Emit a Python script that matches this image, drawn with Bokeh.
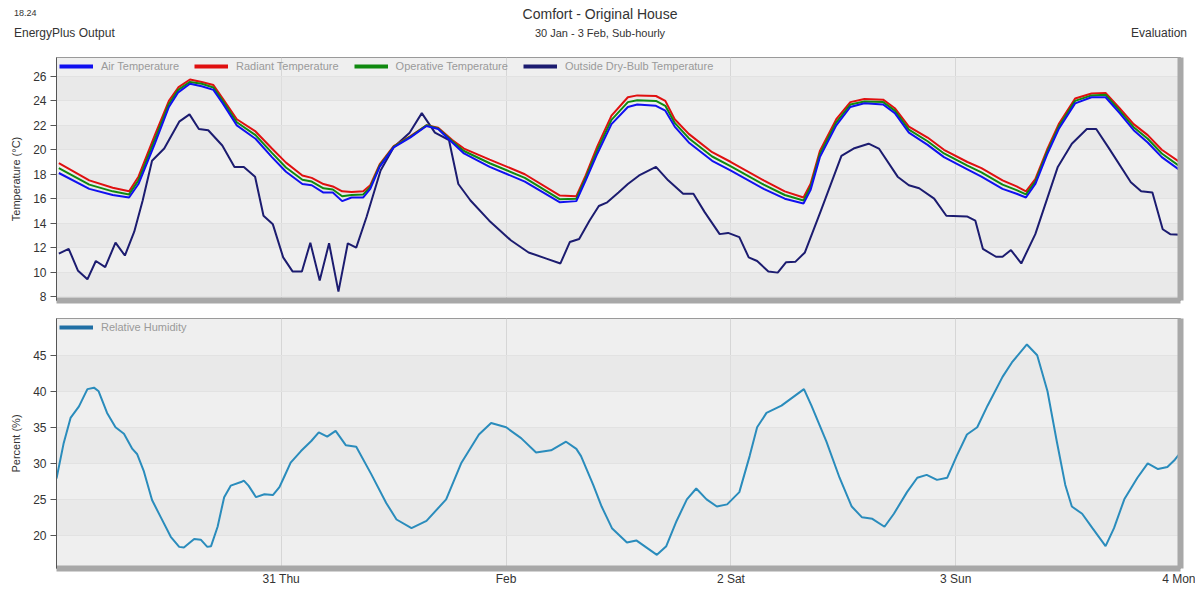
from bokeh.plotting import figure
from bokeh.layouts import column
from bokeh.models import (FixedTicker, Legend, LegendItem, LinearAxis, Range1d, Div)
from bokeh.embed import file_html
from bokeh.resources import INLINE

# ---------------- data (hours from 30 Jan 00:00) ----------------
hours_in = [0.25, 3.5, 6, 7.75, 8.75, 10.5, 12, 13, 14.25, 15.5, 16.75, 17.75, 19.25, 21.25, 23,
            24.5, 26.25, 27.25, 28.5, 29.5, 30.5, 31.5, 32.75, 33.5, 34.5, 36, 37.75, 39.5, 40.75,
            42.25, 43.5, 46.25, 50, 53.75, 55.5, 56.5, 57.75, 59.25, 61, 62, 64, 65, 66, 67.5, 70,
            72, 75.5, 77.75, 79.75, 80.5, 81.5, 83.25, 84.75, 86.25, 88.25, 89.5, 91, 93, 94.75,
            97.25, 98.75, 101, 102.5, 103.5, 104.5, 105.75, 107, 108.75, 110.5, 112, 113.5, 115,
            116.5, 118, 120]
air_temp = [18.1, 16.8, 16.3, 16.1, 17.2, 20.5, 23.5, 24.7, 25.4, 25.2, 24.9, 23.8, 22.0, 20.9, 19.4,
            18.2, 17.2, 17.1, 16.5, 16.5, 15.8, 16.1, 16.1, 16.8, 18.6, 20.2, 21.0, 21.95, 21.7,
            20.6, 19.7, 18.6, 17.4, 15.7, 15.8, 17.5, 19.7, 22.1, 23.5, 23.7, 23.6, 23.2, 21.9, 20.6,
            19.1, 18.3, 16.8, 16.0, 15.6, 16.7, 19.4, 22.0, 23.5, 23.8, 23.7, 23.0, 21.4, 20.4, 19.4,
            18.4, 17.8, 16.8, 16.4, 16.1, 17.2, 19.6, 21.7, 23.8, 24.3, 24.3, 23.0, 21.6, 20.6, 19.4,
            18.3]
radiant_temp = [18.9, 17.5, 16.9, 16.6, 17.8, 21.2, 24.0, 25.1, 25.75, 25.55, 25.3, 24.2, 22.5, 21.5,
                20.1, 18.95, 17.9, 17.7, 17.2, 17.0, 16.6, 16.55, 16.6, 17.1, 18.8, 20.3, 21.1, 22.0,
                21.8, 20.8, 20.1, 19.2, 18.0, 16.25, 16.2, 17.9, 20.3, 22.8, 24.3, 24.45, 24.4, 24.0,
                22.5, 21.3, 19.8, 19.0, 17.5, 16.6, 16.1, 17.2, 19.9, 22.5, 23.9, 24.15, 24.1, 23.4,
                21.9, 21.0, 20.0, 19.0, 18.5, 17.5, 17.0, 16.6, 17.6, 20.0, 22.1, 24.2, 24.6, 24.65,
                23.4, 22.1, 21.2, 20.0, 18.95]
operative_temp = [18.5, 17.15, 16.6, 16.35, 17.5, 20.85, 23.75, 24.9, 25.55, 25.4, 25.1, 24.0, 22.25,
                  21.2, 19.75, 18.55, 17.55, 17.4, 16.85, 16.75, 16.2, 16.3, 16.35, 16.95, 18.7,
                  20.25, 21.05, 22.0, 21.75, 20.7, 19.9, 18.9, 17.7, 15.95, 16.0, 17.7, 20.0, 22.45,
                  23.9, 24.05, 24.0, 23.6, 22.2, 20.95, 19.45, 18.65, 17.15, 16.3, 15.85, 16.95,
                  19.65, 22.25, 23.7, 23.95, 23.9, 23.2, 21.65, 20.7, 19.7, 18.7, 18.15, 17.15, 16.7,
                  16.35, 17.4, 19.8, 21.9, 24.0, 24.45, 24.5, 23.2, 21.85, 20.9, 19.7, 18.6]

hours_out = [0.25, 1.3, 2.3, 3.3, 4.2, 5.2, 6.3, 7.3, 8.3, 9.2, 10.2, 11.5, 13.1, 14.2, 15.2, 16.2,
             17.7, 19, 20, 21.2, 22.1, 23.1, 24.2, 25.2, 26.2, 27.1, 28.1, 29.1, 30.1, 31.1, 32,
             33.1, 34.6, 36, 37.7, 39, 40.4, 41.9, 42.9, 44.2, 46.2, 48.5, 50.4, 52.3, 53.8, 54.8,
             55.8, 56.9, 57.9, 58.8, 60, 61, 62.2, 64, 65.3, 66.9, 68, 69.2, 70.8, 71.7, 72.9, 73.9,
             74.8, 76, 77, 77.9, 78.9, 79.9, 81.6, 83.8, 85.1, 86.7, 87.8, 89.8, 91, 92.1, 93.7, 95,
             97.2, 98.1, 98.9, 100.3, 101, 101.9, 103, 104.5, 106.9, 108.4, 110, 111, 112.3, 114.7,
             115.8, 117, 118.1, 118.9, 120]
outside_temp = [11.5, 11.9, 10.1, 9.4, 10.9, 10.4, 12.4, 11.35, 13.3, 15.85, 19.1, 20.1, 22.3, 22.9,
                21.7, 21.6, 20.35, 18.6, 18.6, 17.8, 14.6, 13.9, 11.2, 10.05, 10.05, 12.4, 9.3,
                12.35, 8.4, 12.35, 12.0, 14.5, 18.3, 20.2, 21.4, 23.0, 21.4, 20.8, 17.2, 15.85, 14.2,
                12.6, 11.6, 11.1, 10.7, 12.45, 12.7, 14.2, 15.4, 15.7, 16.5, 17.2, 17.9, 18.6, 17.5,
                16.4, 16.4, 14.9, 13.1, 13.2, 12.85, 11.2, 10.9, 10.05, 9.95, 10.8, 10.85, 11.6,
                15.0, 19.5, 20.1, 20.5, 20.1, 17.8, 17.1, 16.85, 16.0, 14.6, 14.55, 14.2, 11.9,
                11.25, 11.25, 11.8, 10.7, 13.1, 18.6, 20.5, 21.7, 21.7, 20.2, 17.35, 16.6, 16.5,
                13.5, 13.1, 13.05]

hours_rh = [0, 0.75, 1.5, 2.4, 3.3, 4, 4.5, 5.4, 6.3, 7.2, 8.1, 8.6, 9.3, 10.2, 11.1, 12.2, 13.1, 13.6,
            14.7, 15.4, 16.1, 16.5, 17.2, 17.9, 18.6, 19.7, 20, 20.5, 21.3, 22.2, 23.1, 23.8, 24.3,
            25, 26.1, 27.2, 28, 28.9, 29.8, 30.9, 32, 33.6, 35.2, 36.3, 37.9, 39.5, 41.6, 43.2, 45.1,
            46.4, 48, 49.6, 51.2, 52.8, 54.4, 55.5, 56, 57.3, 58.2, 59.3, 60.9, 61.9, 64.1, 65.1,
            66.2, 67.3, 68.3, 69.4, 70.5, 71.6, 72.9, 74, 74.8, 75.8, 77.4, 79.8, 80.6, 82.2, 83.6,
            84.9, 86, 87.1, 88.4, 89.4, 90.8, 91.9, 92.9, 94, 95.1, 96.1, 97.2, 98.3, 99.4, 101,
            102, 103.6, 104.7, 105.8, 106.8, 107.7, 108.4, 109.5, 110.6, 112, 112.9, 114, 115.4,
            116.5, 117.6, 118.6, 119.4, 120]
rel_humidity = [27.9, 32.7, 36.3, 37.9, 40.3, 40.5, 40.0, 37.0, 35.0, 34.1, 32.0, 31.3, 29.0, 24.9,
                22.6, 19.8, 18.4, 18.3, 19.5, 19.4, 18.4, 18.5, 21.2, 25.3, 26.9, 27.4, 27.6, 26.9,
                25.3, 25.7, 25.6, 26.7, 28.1, 30.1, 31.7, 33.1, 34.3, 33.7, 34.5, 32.5, 32.3, 28.5,
                24.5, 22.2, 21.0, 22.0, 25.0, 30.0, 34.0, 35.6, 35.0, 33.5, 31.5, 31.8, 33.0, 32.0,
                31.0, 27.0, 24.0, 21.0, 19.0, 19.3, 17.3, 18.5, 22.0, 25.0, 26.5, 25.0, 24.0, 24.3,
                26.0, 31.0, 35.0, 37.0, 38.0, 40.3, 38.0, 33.0, 28.0, 24.0, 22.5, 22.3, 21.2, 23.0,
                26.0, 28.0, 28.4, 27.7, 28.0, 31.0, 34.0, 35.0, 38.0, 42.0, 44.0, 46.5, 45.0, 40.0,
                33.0, 27.0, 24.0, 23.0, 21.0, 18.5, 21.0, 25.0, 28.0, 30.0, 29.2, 29.5, 30.5, 31.5]

day_ticks = [24, 48, 72, 96, 120]
day_labels = ["31 Thu", "Feb", "2 Sat", "3 Sun", "4 Mon"]
temp_ticks = [8, 10, 12, 14, 16, 18, 20, 22, 24, 26]
rh_ticks = [20, 25, 30, 35, 40, 45]
temp_names = ["Air Temperature", "Radiant Temperature", "Operative Temperature",
              "Outside Dry-Bulb Temperature"]
header_texts = ["18.24", "EnergyPlus Output", "Comfort - Original House",
                "30 Jan - 3 Feb, Sub-hourly", "Evaluation"]

FONT = "Liberation Sans"
C_AIR, C_RAD, C_OP, C_OUT, C_RH = "#1010f0", "#e01010", "#108a10", "#1c1c70", "#2a8cbc"
SHADOW = "#a8a8a8"
NAN = float("nan")
W = 1195
HDR_H = 46


def style(p, yticks, ylabel):
    p.background_fill_color = "#efefef"
    p.border_fill_color = "white"
    p.outline_line_color = "#9a9a9a"
    p.outline_line_width = 1
    yax = p.yaxis[0]
    yax.ticker = FixedTicker(ticks=yticks)
    yax.axis_label = ylabel
    yax.axis_label_text_font = FONT
    yax.axis_label_text_font_size = "11px"
    yax.axis_label_text_font_style = "normal"
    yax.axis_label_text_color = "#333333"
    yax.axis_label_standoff = 8
    yax.major_label_text_font = FONT
    yax.major_label_text_font_size = "12px"
    yax.major_label_text_color = "#333333"
    yax.axis_line_color = "#555555"
    yax.major_tick_line_color = "#555555"
    yax.major_tick_out = 6
    yax.major_tick_in = 0
    yax.minor_tick_line_color = None
    yax.major_label_standoff = 4
    p.ygrid.ticker = FixedTicker(ticks=yticks)
    p.ygrid.grid_line_color = "#e2e2e2"
    p.ygrid.band_fill_color = "#e4e4e4"
    p.ygrid.band_fill_alpha = 0.55
    p.xgrid.ticker = FixedTicker(ticks=day_ticks[:-1])
    p.xgrid.grid_line_color = "#d6d6d6"
    xax = p.xaxis[0]
    xax.axis_line_color = SHADOW
    xax.axis_line_width = 6
    xax.minor_tick_line_color = None
    xax.major_tick_line_color = "#c8c8c8"
    xax.major_tick_in = 0
    xax.major_tick_out = 0
    right = LinearAxis(ticker=FixedTicker(ticks=[]), axis_line_color=SHADOW, axis_line_width=6,
                       major_tick_line_color=None, minor_tick_line_color=None)
    p.add_layout(right, "right")


# ---------------- header strip (HTML text) ----------------
# (text, left/center/right anchor x, vertical centre y, font size px, alignment)
hdr_style = [(14, 13, 9, "left"), (14, 33, 12, "left"), (600, 14, 14, "center"),
             (600, 33, 11, "center"), (1187, 33, 12, "right")]
spans = []
for t, (x, y, fs, al) in zip(header_texts, hdr_style):
    top = y - fs / 2
    if al == "left":
        pos = f"left:{x}px;"
    elif al == "center":
        pos = f"left:{x}px;transform:translateX(-50%);"
    else:
        pos = f"right:{W - x}px;"
    spans.append(f'<span style="position:absolute;{pos}top:{top}px;font-size:{fs}px;'
                 f'line-height:1;white-space:nowrap;">{t}</span>')
header = Div(text=(f'<div style="position:relative;width:{W}px;height:{HDR_H}px;'
                   f'font-family:\'{FONT}\',Arial,sans-serif;color:#333333;">'
                   + "".join(spans) + "</div>"),
             width=W, height=HDR_H, margin=0)

# ---------------- top panel ----------------
p1 = figure(width=W, height=310 - HDR_H, x_range=Range1d(0, 120), y_range=Range1d(7.67, 27.55),
            output_backend="svg", toolbar_location=None,
            min_border_left=56, min_border_right=15, min_border_top=57 - HDR_H, min_border_bottom=10)
style(p1, temp_ticks, "Temperature (°C)")
p1.xaxis[0].ticker = FixedTicker(ticks=[])

p1.line(hours_out, outside_temp, line_color=C_OUT, line_width=2)
p1.line(hours_in, radiant_temp, line_color=C_RAD, line_width=2)
p1.line(hours_in, operative_temp, line_color=C_OP, line_width=2)
p1.line(hours_in, air_temp, line_color=C_AIR, line_width=2)

leg_r = [p1.line(x=[NAN], y=[NAN], line_color=c, line_width=4)
         for c in (C_AIR, C_RAD, C_OP, C_OUT)]
legend1 = Legend(items=[LegendItem(label=n, renderers=[r]) for n, r in zip(temp_names, leg_r)],
                 orientation="horizontal", location="top_left",
                 label_text_font=FONT, label_text_font_size="11px", label_text_color="#9a9a9a",
                 glyph_width=34, glyph_height=10, label_standoff=8, spacing=15,
                 padding=0, margin=3, label_height=10,
                 background_fill_alpha=0, border_line_color=None)
p1.add_layout(legend1)

# ---------------- bottom panel ----------------
p2 = figure(width=W, height=283, x_range=p1.x_range, y_range=Range1d(15.4, 50.1),
            output_backend="svg", toolbar_location=None,
            min_border_left=56, min_border_right=15, min_border_top=8, min_border_bottom=25)
style(p2, rh_ticks, "Percent (%)")
xax2 = p2.xaxis[0]
xax2.ticker = FixedTicker(ticks=day_ticks)
xax2.major_label_overrides = {t: l for t, l in zip(day_ticks, day_labels)}
xax2.major_label_text_font = FONT
xax2.major_label_text_font_size = "12px"
xax2.major_label_text_color = "#333333"
xax2.major_label_standoff = 3

p2.line(hours_rh, rel_humidity, line_color=C_RH, line_width=2)
leg_rh = p2.line(x=[NAN], y=[NAN], line_color="#1f6fa5", line_width=4)
legend2 = Legend(items=[LegendItem(label="Relative Humidity", renderers=[leg_rh])],
                 orientation="horizontal", location="top_left",
                 label_text_font=FONT, label_text_font_size="11px", label_text_color="#9a9a9a",
                 glyph_width=34, glyph_height=10, label_standoff=8, padding=0, margin=3,
                 label_height=10, background_fill_alpha=0, border_line_color=None)
p2.add_layout(legend2)

layout = column(header, p1, p2, spacing=0)
open("out.html", "w").write(file_html(layout, INLINE))
